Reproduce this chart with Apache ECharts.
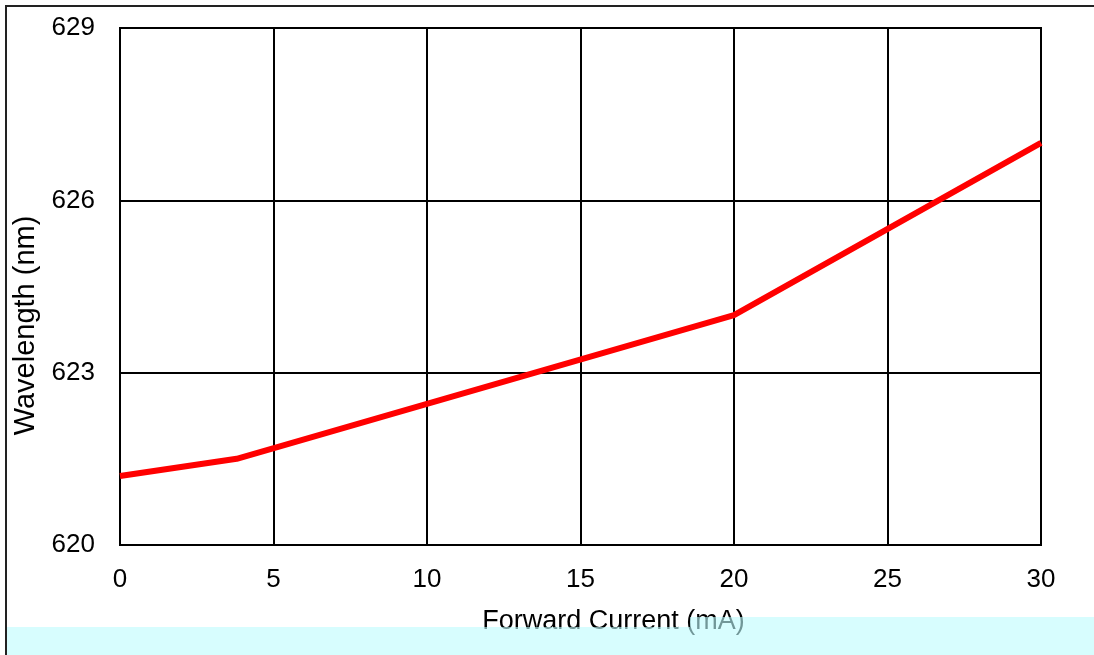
<!DOCTYPE html>
<html>
<head>
<meta charset="utf-8">
<script src="https://cdn.jsdelivr.net/npm/echarts@6/dist/echarts.min.js"></script>
<style>html,body{margin:0;padding:0;background:#fff}#c{width:1094px;height:655px}</style>
</head>
<body>
<div id="c"></div>
<script>
const currentMA = [0, 3.8, 20, 30];
const wavelengthNm = [621.2, 621.5, 624.0, 627.0];
const xTicks = [0, 5, 10, 15, 20, 25, 30];
const yTicks = [620, 623, 626, 629];
const xTitle = 'Forward Current (mA)';
const yTitle = 'Wavelength (nm)';

const chart = echarts.init(document.getElementById('c'));
const font = 'Liberation Sans, Arial, sans-serif';
chart.setOption({
  animation: false,
  backgroundColor: '#fff',
  grid: { left: 120, right: 53, top: 28, bottom: 110, show: true, borderColor: '#000', borderWidth: 2,
          containLabel: false, outerBoundsMode: 'none' },
  xAxis: {
    type: 'value', min: xTicks[0], max: xTicks[xTicks.length - 1], interval: 5,
    axisLine: { show: true, lineStyle: { color: '#000', width: 2 } },
    axisTick: { show: false },
    axisLabel: { color: '#000', fontSize: 26, fontFamily: font, margin: 22 },
    splitLine: { show: true, lineStyle: { color: '#000', width: 2 } },
    name: xTitle, nameLocation: 'middle', nameGap: 63,
    nameTextStyle: { color: '#000', fontSize: 27, fontFamily: font, padding: [0, 0, 0, 66] }
  },
  yAxis: {
    type: 'value', min: yTicks[0], max: yTicks[yTicks.length - 1], interval: 3,
    axisLine: { show: true, lineStyle: { color: '#000', width: 2 } },
    axisTick: { show: false },
    axisLabel: { color: '#000', fontSize: 26, fontFamily: font, margin: 25 },
    splitLine: { show: true, lineStyle: { color: '#000', width: 2 } },
    name: yTitle, nameLocation: 'middle', nameGap: 76,
    nameTextStyle: { color: '#000', fontSize: 29, fontFamily: font, padding: [0, 78, 0, 0] }
  },
  series: [{
    type: 'line',
    data: currentMA.map((x, i) => [x, wavelengthNm[i]]),
    showSymbol: false, symbol: 'none',
    lineStyle: { color: '#ff0000', width: 6 },
    z: 5
  }],
  graphic: [
    { type: 'rect', z: 100, silent: true, shape: { x: 6, y: 6, width: 1300, height: 900 },
      style: { fill: 'none', stroke: '#222', lineWidth: 2 } },
    { type: 'rect', z: 101, silent: true, shape: { x: 7, y: 627, width: 1100, height: 40 },
      style: { fill: 'rgba(188,252,253,0.6)' } },
    { type: 'rect', z: 101, silent: true, shape: { x: 690, y: 617, width: 500, height: 10 },
      style: { fill: 'rgba(188,252,253,0.6)' } }
  ]
});
</script>
</body>
</html>
